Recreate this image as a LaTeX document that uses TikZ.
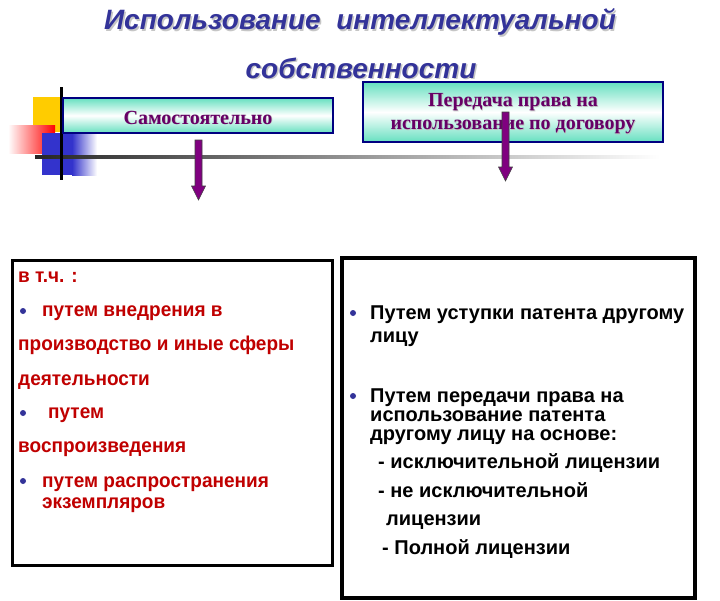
\documentclass[tikz,border=0pt]{standalone}
\usepackage{fontspec}
\setmainfont{Liberation Sans}
\newfontfamily\serifb{Liberation Serif}
\newfontfamily\leftsans[FakeStretch=0.95]{Liberation Sans}
\newfontfamily\rightsans{Liberation Sans}
\usetikzlibrary{calc}

\definecolor{titleblue}{HTML}{333399}
\definecolor{boxnavy}{HTML}{000080}
\definecolor{plum}{HTML}{660066}
\definecolor{arrowpurple}{HTML}{800080}
\definecolor{darkred}{HTML}{C00000}
\definecolor{aqua}{HTML}{66E0C0}
\definecolor{sqyellow}{HTML}{FFCC00}
\definecolor{sqblue}{HTML}{3333CC}

\tikzset{
 titletext/.style={font=\fontsize{28}{28}\bfseries\itshape\selectfont, text=titleblue, inner sep=0},
 titleshadow/.style={titletext, text=gray!45},
 topbox/.style={draw=boxnavy, line width=2.5pt, top color=aqua, bottom color=aqua, middle color=white, inner sep=0},
 boxtext/.style={font=\serifb\fontsize{20}{23}\bfseries\selectfont, text=plum, align=center, inner sep=0},
 boxshadow/.style={boxtext, text=gray!50},
 redline/.style={anchor=base west, inner sep=0, font=\leftsans\fontsize{20}{20}\bfseries\selectfont, text=darkred},
 blackline/.style={anchor=base west, inner sep=0, font=\rightsans\fontsize{20}{20}\bfseries\selectfont, text=black},
 bulletdot/.style={circle, fill=titleblue, inner sep=0, minimum size=6pt},
 listbox/.style={draw=black, line width=3pt, fill=white, inner sep=0},
 bigarrow/.style={fill=arrowpurple, draw=black!75, line width=0.6pt},
}
\newcommand\fatarrow[4]{% start, tip, shaft half width, head half width
 \draw[bigarrow] ($(#1)+(-#3,0)$) -- ($(#2)+(-#3,-14)$) -- ($(#2)+(-#4,-14)$) -- (#2)
   -- ($(#2)+(#4,-14)$) -- ($(#2)+(#3,-14)$) -- ($(#1)+(#3,0)$) -- cycle;}

\begin{document}
\begin{tikzpicture}[x=1pt,y=-1pt]
\useasboundingbox[fill=white] (0,0) rectangle (720,600);

% decorative squares and lines
\fill[sqyellow] (33,97) rectangle (60,132);
\shade[left color=white, right color=red] (8,125) rectangle (55,153);
\fill[sqblue] (42,133) rectangle (72,175);
\shade[left color=sqblue, right color=white] (72,133) rectangle (97,175);
\shade[left color=black!85, middle color=gray!85, right color=white] (35,155.5) rectangle (660,158.5);
\draw[line width=3pt] (61,87) -- (61,180);

% title
\node[titleshadow] at (361.5,23.5) {Использование\ \ интеллектуальной};
\node[titletext] (t1) at (360,22) {Использование\ \ интеллектуальной};
\node[titleshadow] at (362.5,69.5) {собственности};
\node[titletext] (t2) at (361,68) {собственности};

% top boxes
\node[topbox, minimum width=270pt, minimum height=35pt] (self) at (198,115.5) {};
\node[boxshadow] at (198.8,118.3) {Самостоятельно};
\node[boxtext] (selft) at (198,117.5) {Самостоятельно};
\node[topbox, minimum width=300pt, minimum height=60pt] (dog) at (513,112) {};
\node[boxshadow] at (513.8,114.8) {Передача права на\\использование по договору};
\node[boxtext] (dogt) at (513,114) {Передача права на\\использование по договору};

% arrows
\coordinate (a1s) at (198.5,140);
\coordinate (a1e) at (198.5,200);
\coordinate (a2s) at (505.5,112);
\coordinate (a2e) at (505.5,181);
\fatarrow{a1s}{a1e}{3.5}{7}
\fatarrow{a2s}{a2e}{3.5}{7}

% lower boxes
\node[listbox, minimum width=320pt, minimum height=305pt] (left) at (172,412.5) {};
\node[listbox, line width=3.5pt, minimum width=353pt, minimum height=340pt] (right) at (518.5,428) {};

% left text
\node[redline] (l0) at (18,282) {в т.ч. :};
\node[bulletdot] (b1) at (23,311) {};
\node[redline] (l1) at (42,316) {путем внедрения в};
\node[redline] (l2) at (18,350) {производство и иные сферы};
\node[redline] (l3) at (18,385) {деятельности};
\node[bulletdot] (b2) at (23,413) {};
\node[redline] (l4) at (48,418) {путем};
\node[redline] (l5) at (18,452) {воспроизведения};
\node[bulletdot] (b3) at (23,481) {};
\node[redline] (l6) at (42,487) {путем распространения};
\node[redline] (l7) at (42,508) {экземпляров};

% right text
\node[bulletdot] (r b1) at (353,313) {};
\node[blackline] (r1) at (370,319) {Путем уступки патента другому};
\node[blackline] (r2) at (370,342) {лицу};
\node[bulletdot] (r b2) at (353,396) {};
\node[blackline] (r3) at (370,402) {Путем передачи права на};
\node[blackline] (r4) at (370,421) {использование патента};
\node[blackline] (r5) at (370,440) {другому лицу на основе:};
\node[blackline] (r6) at (378,468) {- исключительной лицензии};
\node[blackline] (r7) at (378,497) {- не исключительной};
\node[blackline] (r8) at (386,525) {лицензии};
\node[blackline] (r9) at (382,554) {- Полной лицензии};
\end{tikzpicture}
\end{document}
